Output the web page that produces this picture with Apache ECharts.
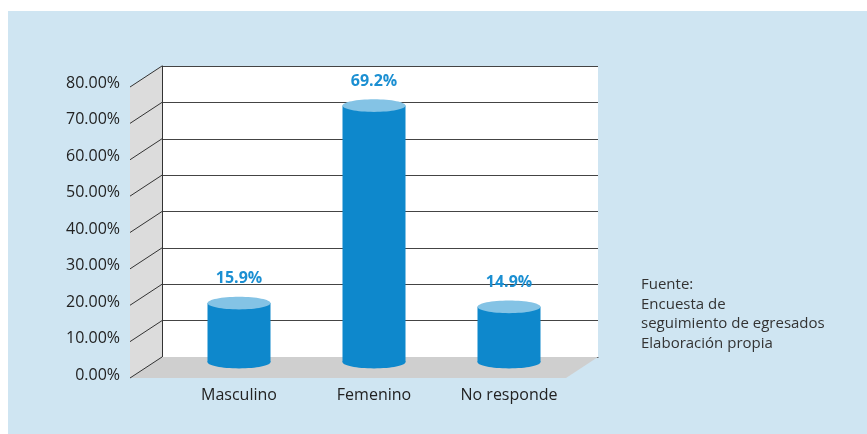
<!DOCTYPE html>
<html>
<head>
<meta charset="utf-8">
<script src="https://cdn.jsdelivr.net/npm/echarts@6/dist/echarts.min.js"></script>
<style>
  html, body { margin: 0; padding: 0; background: #fff; }
  #chart { width: 867px; height: 434px; }
</style>
</head>
<body>
<div id="chart"></div>
<script>
const categories = ['Masculino', 'Femenino', 'No responde']
const values = [15.9, 69.2, 14.9]
const valueLabels = ['15.9%', '69.2%', '14.9%']
const sourceLines = ['Fuente:', 'Encuesta de', 'seguimiento de egresados', 'Elaboración propia']

const FONT = '"Open Sans", "Noto Sans", sans-serif'
const BODY = '#0e88cc'
const TOP = '#84c3e5'
// depth of the 3d box (front minus back)
const DX = -32
const DY = 21

const chart = echarts.init(document.getElementById('chart'))

const renderWalls = (params, api) => {
  const cs = params.coordSys
  const children = []
  const x0 = cs.x, x1 = cs.x + cs.width, yb = cs.y + cs.height, yt = cs.y
  // left side wall
  children.push({
    type: 'polygon',
    shape: { points: [[x0 + DX, yt + DY], [x0, yt], [x0, yb], [x0 + DX, yb + DY]] },
    style: { fill: '#dcdcdc' }
  })
  // floor
  children.push({
    type: 'polygon',
    shape: { points: [[x0 + DX, yb + DY], [x0, yb], [x1, yb], [x1 + DX, yb + DY]] },
    style: { fill: '#cfcfcf' }
  })
  for (let v = 0; v <= 80; v += 10) {
    const y = api.coord([0, v])[1]
    children.push({
      type: 'line',
      shape: { x1: x0 + DX, y1: y + DY, x2: x0, y2: y },
      style: { stroke: '#333', lineWidth: 1 }
    })
  }
  return { type: 'group', children: children }
}

const renderCylinder = (params, api) => {
  const i = api.value(0)
  const base = api.coord([i, 0])
  const top = api.coord([i, api.value(1)])
  const rx = 31.5
  const ry = 6.4
  const cx = base[0]
  return {
    type: 'group',
    children: [
      { type: 'ellipse', shape: { cx: cx, cy: base[1], rx: rx, ry: ry }, style: { fill: BODY } },
      { type: 'rect', shape: { x: cx - rx, y: top[1], width: rx * 2, height: base[1] - top[1] }, style: { fill: BODY } },
      { type: 'ellipse', shape: { cx: cx, cy: top[1], rx: rx, ry: ry }, style: { fill: TOP } },
      {
        type: 'text',
        x: cx, y: top[1] - ry - 18,
        style: {
          text: valueLabels[i],
          fill: '#1b8fd2',
          font: 'bold 16px ' + FONT,
          align: 'center',
          verticalAlign: 'middle'
        }
      }
    ]
  }
}

const option = {
  backgroundColor: '#fff',
  animation: false,
  graphic: [
    { type: 'rect', z: -10, shape: { x: 8, y: 11, width: 859, height: 423 }, style: { fill: '#cfe5f2' } },
    {
      type: 'text', left: 641, top: 275,
      style: {
        text: sourceLines.join('\n'),
        fill: '#333',
        font: '15px ' + FONT,
        lineHeight: 19.5
      }
    }
  ],
  grid: [
    // back wall
    { left: 162, top: 66, width: 436, height: 291, show: true, backgroundColor: '#fff', borderWidth: 0 },
    // front edge, for the tick labels
    { left: 130, top: 83, width: 436, height: 292 },
    // bars, mid depth
    { left: 171.5, top: 65.5, width: 405, height: 296.5 }
  ],
  xAxis: [
    { gridIndex: 0, type: 'category', data: categories, axisLine: { lineStyle: { color: '#333' } }, axisTick: { show: false }, axisLabel: { show: false } },
    { gridIndex: 1, type: 'category', data: categories, show: false },
    {
      gridIndex: 2, type: 'category', data: categories,
      axisLine: { show: false }, axisTick: { show: false },
      axisLabel: { margin: 25, color: '#222', fontFamily: FONT, fontSize: 16 }
    }
  ],
  yAxis: [
    {
      gridIndex: 0, type: 'value', min: 0, max: 80, interval: 10,
      axisLine: { show: true, lineStyle: { color: '#333' } },
      axisTick: { show: false }, axisLabel: { show: false },
      splitLine: { lineStyle: { color: '#444', width: 1 } }
    },
    {
      gridIndex: 1, type: 'value', min: 0, max: 80, interval: 10,
      axisLine: { show: false }, axisTick: { show: false }, splitLine: { show: false },
      axisLabel: { margin: 10, color: '#222', fontFamily: FONT, fontSize: 16, formatter: v => v.toFixed(2) + '%' }
    },
    { gridIndex: 2, type: 'value', min: 0, max: 80, show: false }
  ],
  series: [
    {
      type: 'custom', xAxisIndex: 0, yAxisIndex: 0, z: 1,
      renderItem: renderWalls,
      data: [[0, 0]],
      silent: true
    },
    {
      type: 'custom', xAxisIndex: 2, yAxisIndex: 2, z: 3,
      renderItem: renderCylinder,
      data: values.map((v, i) => [i, v])
    }
  ]
}

chart.setOption(option)
</script>
</body>
</html>
